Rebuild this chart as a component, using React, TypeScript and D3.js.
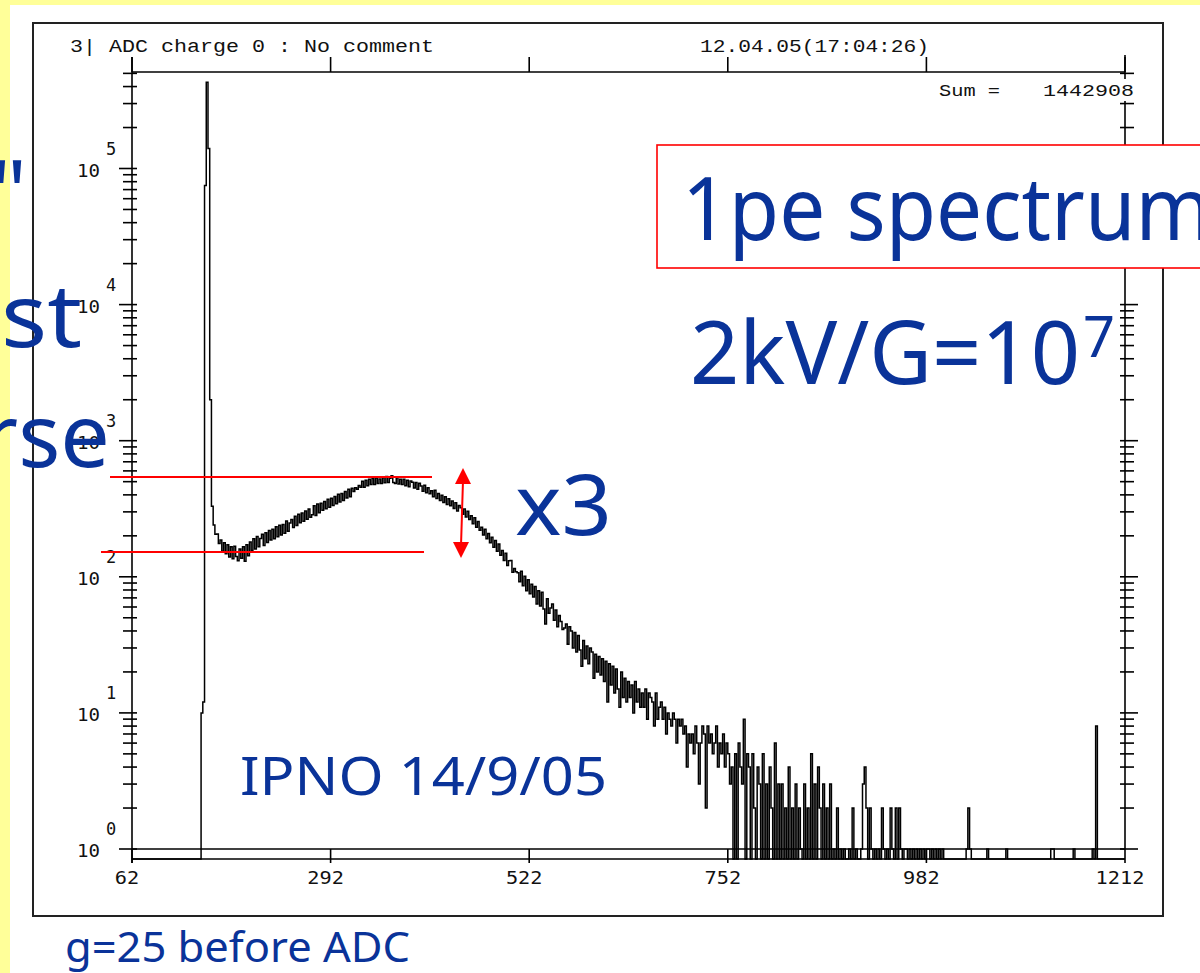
import React from 'react';
import * as d3 from 'd3';

// ---- data ----
const xTickChannels = [62, 292, 522, 752, 982, 1212];
const yDecadeExponents = [0, 1, 2, 3, 4, 5];
const firstChannel = 62;
const lastChannel = 1212;
const channelsPerBin = 2;

// counts per 2-channel bin, channel 62 upward
const pedestalCounts = [
  0, 0, 0, 0, 0, 0, 0, 0, 0, 0, 0, 0, 0, 0, 0, 0, 0, 0, 0, 0,
  0, 0, 0, 0, 0, 0, 0, 0, 0, 0, 0, 0, 0, 0, 0, 0, 0, 0, 0, 0,
  10, 12, 75000, 430000, 140000, 2000, 330, 240, 205,
];
const valleyPeakCounts = [
  206, 176, 186, 154, 178, 148, 172, 140,
  166, 136, 168, 141, 131, 160,
  137, 166, 130, 172, 143, 180,
  156, 190, 160, 198, 166, 191,
  205, 170, 211, 179, 219, 186,
  224, 190, 233, 197, 239, 203,
  242, 209, 257, 216, 249,
  264, 230, 279, 238, 288, 250,
  294, 256, 304, 265, 315, 274,
  286, 332, 282, 342, 296, 347,
  308, 358, 316, 371, 324,
  377, 334, 389, 344, 405, 355,
  409, 364, 423, 380, 440, 388,
  447, 423, 452, 440, 468, 455,
  504, 455, 513, 466, 520, 476,
  527, 477, 532, 484, 524,
  485, 535, 490, 545, 494, 530,
  552, 493, 485, 535, 480, 522,
  476, 520, 467, 512, 458, 505,
  496, 450, 494, 440, 486,
  465, 426, 471, 414, 451, 407,
  428, 387, 432, 376, 410, 364,
  398, 352, 387, 340, 374, 332,
  360, 318, 350, 304, 334,
  322, 288, 315, 275, 303, 264,
  281, 245, 271, 231, 255, 220,
  231, 203, 224, 190, 208, 178,
];
const slopeCounts = [
  195, 165, 185, 154, 174, 144,
  156, 132, 149, 121, 131,
  132, 108, 115, 109, 107, 92,
  110, 86, 101, 79, 95, 75,
  88, 71, 85, 63, 79, 61,
  77, 58, 45, 69, 54, 59,
  63, 48, 57, 43, 52,
  47, 41, 42, 45, 32, 43,
  40, 30, 39, 28, 37, 29,
  22, 34, 25, 31, 23, 30,
  28, 18, 27, 20, 26, 19,
  25, 17, 24, 12, 23, 16,
  22, 14, 21, 15, 11, 20,
  13, 18, 12, 17, 13,
  16, 10, 17, 12, 15, 11,
  14, 11, 15, 9, 14, 13,
  12, 8, 14, 9, 11,
  12, 9, 11, 7, 10, 9,
  8, 10, 9, 6, 9, 8,
  9, 7, 8, 4, 7, 6,
  7, 5, 8, 6, 3, 6,
  8, 7, 2, 8, 6,
  7, 5, 6, 8, 4, 6,
  5, 7, 4, 6, 5, 3,
];
const tailCounts = [
  4, 0, 5, 0, 6, 4,
  3, 9, 0, 5, 4,
  0, 5, 2, 0, 4, 3,
  0, 5, 0, 3, 0, 4,
  2, 0, 6, 0, 3, 0,
  3, 0, 2, 0, 4, 0,
  2, 0, 3, 0, 2, 1,
  0, 3, 0, 2, 0,
  5, 0, 3, 0, 4, 2,
  0, 3, 0, 2, 0, 3,
  0, 1, 0, 2, 0, 1,
  0, 1, 0, 0, 1, 0,
  2, 0, 1, 0, 0,
  1, 3, 4, 2, 0, 2,
  1, 0, 1, 0, 1, 0,
  2, 1, 0, 1, 0, 2,
  1, 0, 2, 0, 2,
  1, 0, 1, 1, 0, 1,
  0, 1, 0, 1, 0, 1,
  0, 1, 0, 1, 1, 0,
  1, 0, 1, 0, 1,
  0, 1, 0, 0, 0, 0,
  0, 0, 0, 0, 0, 0,
  0, 0, 0, 1, 2, 1,
  0, 0, 0, 0, 0, 0,
  0, 0, 0, 1, 0, 0,
  0, 0, 0, 0, 0, 0,
  0, 0, 1, 0, 0, 0,
  0, 0, 0, 0, 0, 0,
  0, 0, 0, 0, 0, 0,
  0, 0, 0, 0, 0, 0,
  0, 0, 0, 0, 1, 1,
  0, 0, 0, 0, 0, 0,
  0, 0, 0, 0, 0, 1,
  0, 0, 0, 0, 0, 0,
  0, 0, 0, 0, 1, 0,
  8, 0, 0, 0, 0, 0,
  0, 0, 0, 0, 0, 0,
  0, 0, 0, 0, 0,
];

const titleText = '3| ADC charge 0 : No comment';
const dateText = '12.04.05(17:04:26)';
const sumLabel = 'Sum =';
const sumValue = '1442908';

const BLUE = '#0a3399';
const RED = '#ff0000';
const HAND = "'Comic Sans MS', 'Noto Sans', sans-serif";
const MONO = "'Liberation Mono', 'DejaVu Sans Mono', monospace";
const NUM = "'DejaVu Sans Mono', monospace";

export default function App() {
  const counts = [...pedestalCounts, ...valleyPeakCounts, ...slopeCounts, ...tailCounts];
  const left = 132, right = 1125, top = 72, bottom = 849;
  const x = d3.scaleLinear().domain([firstChannel, lastChannel]).range([left, right]);
  const y = d3.scaleLog().domain([1, 1e5]).range([bottom, 168.5]);
  const zeroY = y(1) + 10;

  const pts: [number, number][] = counts.map((c, i) => [firstChannel + i * channelsPerBin, c]);
  pts.push([lastChannel, counts[counts.length - 1]]);
  const line = d3
    .line<[number, number]>()
    .x((d) => x(d[0]))
    .y((d) => (d[1] > 0 ? y(d[1]) : zeroY))
    .curve(d3.curveStepAfter);
  const histPath = line(pts) || '';

  const yTicks: { y: number; major: boolean }[] = [];
  yDecadeExponents.forEach((e) => {
    for (let m = 1; m <= 9; m++) {
      const py = y(m * Math.pow(10, e));
      if (py >= top - 0.5) yTicks.push({ y: py, major: m === 1 });
    }
  });

  const ax = { stroke: '#000', strokeWidth: 1.6 };

  return (
    <svg
      width={1200}
      height={973}
      style={{ position: 'absolute', left: 0, top: 0, display: 'block' }}
    >
      <rect x={0} y={0} width={1200} height={973} fill="#ffffff" />
      <rect x={0} y={0} width={1200} height={5} fill="#ffff99" />
      <rect x={0} y={0} width={10} height={973} fill="#ffff99" />

      {/* frame */}
      <rect x={33} y={23} width={1130} height={893} fill="none" stroke="#222" strokeWidth={2} />

      {/* header texts */}
      <text x={70} y={52} fontFamily={MONO} fontSize={18} textLength={364} lengthAdjust="spacingAndGlyphs" fill="#111">
        {titleText}
      </text>
      <text x={700} y={52} fontFamily={MONO} fontSize={18} textLength={229} lengthAdjust="spacingAndGlyphs" fill="#111">
        {dateText}
      </text>

      {/* axes */}
      <line x1={left} y1={top} x2={right} y2={top} {...ax} />
      <line x1={left} y1={bottom} x2={right} y2={bottom} {...ax} />
      <line x1={left} y1={57} x2={left} y2={863} {...ax} />
      <line x1={right} y1={55} x2={right} y2={bottom} {...ax} />
      <line x1={left} y1={zeroY} x2={right} y2={zeroY} stroke="#000" strokeWidth={1.3} />

      {xTickChannels.map((c) => (
        <g key={'xt' + c}>
          <line x1={x(c)} y1={57} x2={x(c)} y2={top} {...ax} />
          <line x1={x(c)} y1={bottom} x2={x(c)} y2={863} {...ax} />
          <text
            x={x(c) - 5}
            y={884}
            textAnchor="middle"
            fontFamily={NUM}
            fontSize={17}
            textLength={String(c).length * 12.2}
            lengthAdjust="spacingAndGlyphs"
            fill="#111"
          >
            {c}
          </text>
        </g>
      ))}

      {yTicks.map((t, i) => (
        <g key={'yt' + i}>
          <line x1={t.major ? 119 : 123} y1={t.y} x2={137} y2={t.y} {...ax} />
          <line x1={1120} y1={t.y} x2={t.major ? 1138 : 1134} y2={t.y} {...ax} />
        </g>
      ))}

      {yDecadeExponents.map((e) => (
        <g key={'yl' + e}>
          <text x={100} y={y(Math.pow(10, e)) + 8} textAnchor="end" fontFamily={NUM} fontSize={17} textLength={23} lengthAdjust="spacingAndGlyphs" fill="#111">
            10
          </text>
          <text x={106} y={y(Math.pow(10, e)) - 14} fontFamily={NUM} fontSize={17} fill="#111">
            {e}
          </text>
        </g>
      ))}

      {/* histogram */}
      <path d={histPath} fill="none" stroke="#000" strokeWidth={1.5} />

      {/* Sum box */}
      <rect x={935} y={79} width={203} height={22} fill="#ffffff" />
      <text x={939} y={96} fontFamily={MONO} fontSize={16} textLength={61} lengthAdjust="spacingAndGlyphs" fill="#111">
        {sumLabel}
      </text>
      <text x={1043} y={96} fontFamily={MONO} fontSize={16} textLength={91} lengthAdjust="spacingAndGlyphs" fill="#111">
        {sumValue}
      </text>

      {/* red guide lines and arrow */}
      <line x1={110} y1={477} x2={432} y2={477} stroke={RED} strokeWidth={2} />
      <line x1={101} y1={552} x2={424} y2={552} stroke={RED} strokeWidth={2} />
      <line x1={463} y1={480} x2={461} y2={546} stroke={RED} strokeWidth={2} />
      <polygon points="463,468 455,484 471,484" fill={RED} />
      <polygon points="461,558 453,542 469,542" fill={RED} />

      {/* slide annotations */}
      <rect x={657} y={145} width={600} height={123} fill="#ffffff" stroke={RED} strokeWidth={1.6} />
      <text x={682} y={240} fontFamily={HAND} fontSize={88} textLength={530} lengthAdjust="spacingAndGlyphs" fill={BLUE}>
        1pe spectrum
      </text>
      <text x={690} y={384} fontFamily={HAND} fontSize={88} textLength={390} lengthAdjust="spacingAndGlyphs" fill={BLUE}>
        2kV/G=10
      </text>
      <text x={1083} y={357} fontFamily={HAND} fontSize={56} fill={BLUE}>
        7
      </text>
      <text x={515} y={535} fontFamily={HAND} fontSize={84} textLength={97} lengthAdjust="spacingAndGlyphs" fill={BLUE}>
        x3
      </text>
      <text x={240} y={795} fontFamily={HAND} fontSize={52} textLength={367} lengthAdjust="spacingAndGlyphs" fill={BLUE}>
        IPNO 14/9/05
      </text>
      <text x={65} y={962} fontFamily={HAND} fontSize={42} textLength={345} lengthAdjust="spacingAndGlyphs" fill={BLUE}>
        g=25 before ADC
      </text>

      {/* text from the neighbouring slide column, cut at the left edge */}
      <text x={27} y={223} textAnchor="end" fontFamily={HAND} fontSize={88} fill={BLUE}>
        1pe"
      </text>
      <text x={4} y={347} textAnchor="end" fontFamily={HAND} fontSize={88} fill={BLUE}>
        be
      </text>
      <text x={1} y={347} fontFamily={HAND} fontSize={88} textLength={81} lengthAdjust="spacingAndGlyphs" fill={BLUE}>
        st
      </text>
      <text x={110} y={467} textAnchor="end" fontFamily={HAND} fontSize={88} fill={BLUE}>
        worse
      </text>
    </svg>
  );
}
